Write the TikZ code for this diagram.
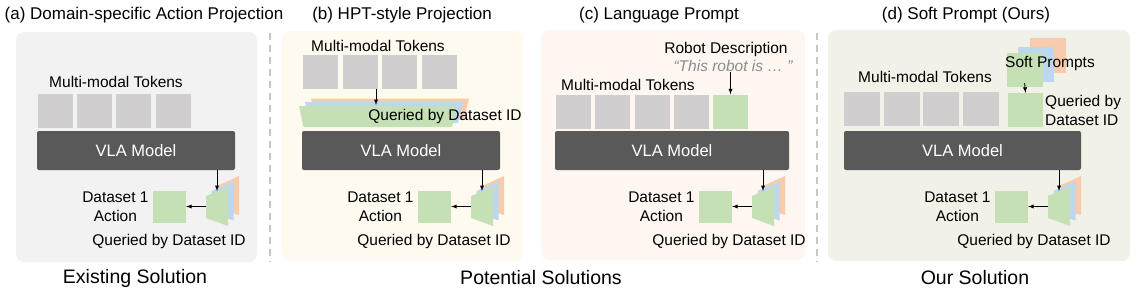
\documentclass[tikz,border=0pt]{standalone}
\usepackage{fontspec}
\setmainfont{Liberation Sans}
\usetikzlibrary{positioning,arrows.meta}

\definecolor{tokgray}{HTML}{D0CECE}
\definecolor{vlagray}{HTML}{595959}
\definecolor{projgreen}{HTML}{C5E0B4}
\definecolor{projblue}{HTML}{BDD7EE}
\definecolor{projorange}{HTML}{F8CBAD}
\definecolor{bga}{HTML}{F2F2F2}
\definecolor{bgb}{HTML}{FFFAF0}
\definecolor{bgc}{HTML}{FDF6F1}
\definecolor{bgd}{HTML}{F2F1E8}
\definecolor{sepgray}{HTML}{C8C8C8}
\definecolor{quotegray}{HTML}{8C8C8C}

\begin{document}
\begin{tikzpicture}[x=1pt,y=-1pt,>=latex,
  bgbox/.style={rounded corners=8pt},
  tokbox/.style={fill=tokgray,minimum width=35pt,minimum height=34pt,inner sep=0pt},
  greenbox/.style={tokbox,fill=projgreen},
  vlabox/.style={fill=vlagray,rounded corners=2pt,minimum height=39pt,inner sep=0pt,
    text=white,font=\fontsize{16.5}{19}\selectfont},
  lab/.style={inner sep=0pt,font=\fontsize{15.5}{19}\selectfont},
  paneltitle/.style={inner sep=0pt,font=\fontsize{17}{20}\selectfont},
  groupname/.style={inner sep=0pt,font=\fontsize{19.5}{22}\selectfont},
  link/.style={->,line width=0.9pt},
  sepline/.style={sepgray,line width=2.5pt,dash pattern=on 7pt off 5pt}]
\useasboundingbox (0,0) rectangle (1138,298);

% Panel backgrounds and separators (units are pixels of the 1138x298 frame).
\fill[bgbox,fill=bga] (16,32) rectangle (257,262);
\fill[bgbox,fill=bgb] (282,31) rectangle (523,261);
\fill[bgbox,fill=bgc] (541,30) rectangle (805,260);
\fill[bgbox,fill=bgd] (828,30) rectangle (1130,261);
\draw[sepline] (270,33) -- (270,262);
\draw[sepline] (817,33) -- (817,262);

\node[paneltitle] (titleA) at (144,15) {(a) Domain-specific Action Projection};
\node[paneltitle] (titleB) at (402,15) {(b) HPT-style Projection};
\node[paneltitle] (titleC) at (659,15) {(c) Language Prompt};
\node[paneltitle] (titleD) at (966,15) {(d) Soft Prompt (Ours)};

\node[groupname] (existing) at (135,278) {Existing Solution};
\node[groupname] (potential) at (541,278) {Potential Solutions};
\node[groupname] (oursol) at (975,278) {Our Solution};

% (a) domain-specific action projection
\node[lab] (mmA) at (116,82) {Multi-modal Tokens};
\foreach \i/\x in {0/55.5,1/94.5,2/133.5,3/173.5}
  \node[tokbox] (tokA\i) at (\x,111) {};
\node[vlabox,minimum width=198pt] (vlaA) at (136,150.5) {VLA Model};

% (b) HPT-style projection: stacked input projectors under the tokens
\node[lab] (mmB) at (378,46) {Multi-modal Tokens};
\foreach \i/\x in {0/320.5,1/360,2/399.5,3/439}
  \node[tokbox] (tokB\i) at (\x,72) {};
\fill[projorange] (311,98.5) -- (469,98.5) -- (464,119.5) -- (315.5,119.5) -- cycle;
\fill[projblue] (305,102) -- (463,102) -- (458,123) -- (309.5,123) -- cycle;
\fill[projgreen] (299,106) -- (457,106) -- (452,127) -- (303.5,127) -- cycle;
\coordinate (projB) at (376,105);
\draw[link] (tokB1.south -| projB) -- (projB);
\node[lab] (inqB) at (445,116) {Queried by Dataset ID};
\node[vlabox,minimum width=198pt] (vlaB) at (401,150.5) {VLA Model};

% (c) language prompt appended to the tokens
\node[lab] (mmC) at (628,85) {Multi-modal Tokens};
\foreach \i/\x in {0/573,1/612.5,2/652,3/691.5}
  \node[tokbox] (tokC\i) at (\x,111.5) {};
\node[greenbox] (promptC) at (730.5,111.5) {};
\node[lab] (robotdesc) at (726,49) {Robot Description};
\node[lab,text=quotegray,font=\fontsize{15.5}{19}\selectfont\itshape] (quote) at (733,66) {“This robot is … ”};
\draw[link] (quote.south -| promptC) -- (promptC.north);
\node[vlabox,minimum width=234pt] (vlaC) at (672,150.5) {VLA Model};

% (d) soft prompts, one per dataset
\node[lab] (mmD) at (925,77) {Multi-modal Tokens};
\foreach \i/\x in {0/862,1/901.5,2/941,3/980.5}
  \node[tokbox,minimum width=36pt] (tokD\i) at (\x,109) {};
\node[tokbox,fill=projorange,minimum width=36pt,minimum height=35pt] (softO) at (1048,55.5) {};
\node[tokbox,fill=projblue,minimum width=36pt,minimum height=35pt] (softB) at (1036,64.5) {};
\node[greenbox,minimum width=36pt,minimum height=34pt] (softG) at (1025,70) {};
\node[lab,anchor=west] (softlab) at (1005,63) {Soft Prompts};
\node[greenbox] (promptD) at (1025.5,110) {};
\draw[link,shorten <=-4pt] (softG.south) -- (promptD.north);
\node[lab,anchor=west,align=left] (promptlab) at (1045,110) {Queried by\\Dataset ID};
\node[vlabox,minimum width=237pt] (vlaD) at (962.5,150.5) {VLA Model};

% Output heads: same layout in every panel, shifted by the head's left edge.
\foreach \p/\T/\q in {A/206/169,B/471/434,C/752/729,D/1048/1034}{
  \begin{scope}[shift={(\T,0)}]
    \fill[projorange] (11,186) -- (33,176) -- (33,215) -- (11,208) -- cycle;
    \fill[projblue] (5.5,191) -- (27.5,181.5) -- (27.5,220.5) -- (5.5,213) -- cycle;
    \fill[projgreen] (0,196) -- (22,187) -- (22,226) -- (0,218) -- cycle;
    \coordinate (head\p) at (11,191);
    \coordinate (headin\p) at (0,206.5);
    \node[greenbox,minimum width=33pt,minimum height=32pt] (act\p) at (-36.5,206.5) {};
  \end{scope}
  \draw[link] (vla\p.south -| head\p) -- (head\p);
  \draw[link] (headin\p) -- (act\p.east);
  \node[lab,align=center,left=4pt of act\p] (actlab\p) {Dataset 1\\Action};
  \node[lab] (qlab\p) at (\q,241) {Queried by Dataset ID};
}
\end{tikzpicture}
\end{document}
